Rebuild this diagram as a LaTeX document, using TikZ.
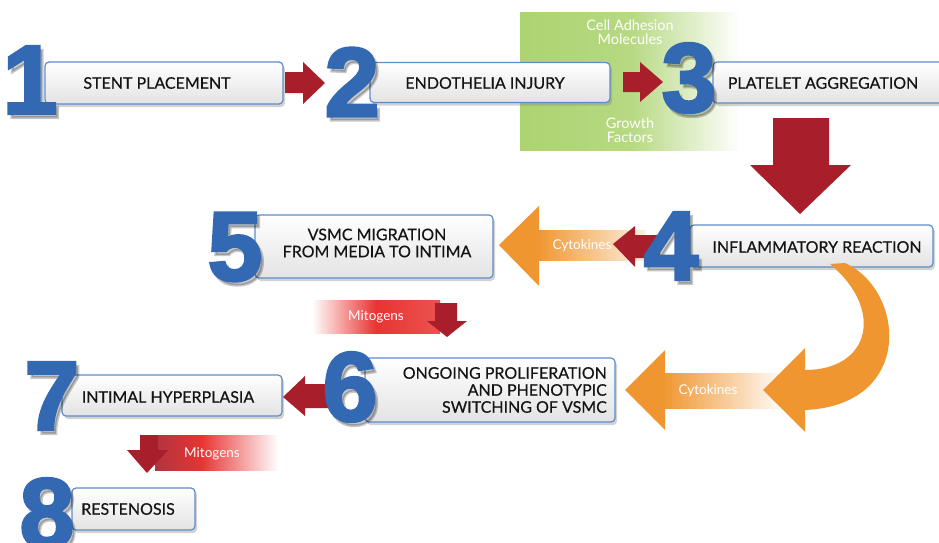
\documentclass[tikz,border=0pt]{standalone}
\usepackage{fontspec}
\setmainfont{Lato}[FakeBold=0.4]
\newfontfamily\smallfont{Lato}
\newfontfamily\numfont{Liberation Sans}[BoldFeatures={FakeBold=3}]
\usetikzlibrary{shadows}
\definecolor{nblue}{RGB}{50,105,178}
\definecolor{bblue}{RGB}{95,140,200}
\definecolor{ared}{RGB}{168,30,42}
\definecolor{bred}{RGB}{232,52,50}
\definecolor{aorange}{RGB}{240,150,48}
\definecolor{agreen}{RGB}{158,204,88}
\definecolor{txt}{RGB}{20,20,20}
\begin{document}
\begin{tikzpicture}[x=1pt,y=-1pt,
  box/.style={draw=bblue, line width=1.2pt, rounded corners=4pt, top color=white, bottom color=gray!22, inner sep=0pt,
    drop shadow={shadow xshift=2pt, shadow yshift=-3pt, opacity=0.35, fill=gray}},
  lbl/.style={font=\fontsize{16}{19}\selectfont, text=txt, inner sep=0pt, align=center},
  small/.style={font=\smallfont\fontsize{13.5}{15}\selectfont, text=white, inner sep=0pt, align=center},
  num/.style={font=\numfont\bfseries\fontsize{98}{98}\selectfont, text=nblue, inner sep=0pt},
  numsh/.style={font=\numfont\bfseries\fontsize{98}{98}\selectfont, text=black, opacity=0.22, inner sep=0pt},
  redarr/.style={fill=ared},
  orarr/.style={fill=aorange}
]
\useasboundingbox (0,0) rectangle (939,543);
\fill[white] (0,0) rectangle (939,543);

% green background
\shade[left color=agreen!85, right color=white, middle color=agreen!75] (520,13) rectangle (740,150);
\node[small, font=\smallfont\fontsize{14.5}{14}\selectfont] (cam) at (630,32) {Cell Adhesion\\Molecules};
\node[small, font=\smallfont\fontsize{14.5}{14}\selectfont] (gf) at (630,130) {Growth\\Factors};

% boxes
\node[box, minimum width=238pt, minimum height=42pt] (b1) at (164,83) {};
\node[box, minimum width=240pt, minimum height=40pt] (b2) at (490,82.5) {};
\node[box, minimum width=232pt, minimum height=41pt] (b3) at (829,82.5) {};
\node[box, minimum width=243pt, minimum height=42pt] (b4) at (811.5,246) {};
\node[box, minimum width=238pt, minimum height=63pt] (b5) at (374,246.5) {};
\node[box, minimum width=250pt, minimum height=64pt] (b6) at (490,390) {};
\node[box, minimum width=220pt, minimum height=41pt] (b7) at (172,395.5) {};
\node[box, minimum width=123pt, minimum height=42pt] (b8) at (133.5,509) {};

\node[lbl] (t1) at (157,83) {STENT PLACEMENT};
\node[lbl] (t2) at (485,83) {ENDOTHELIA INJURY};
\node[lbl] (t3) at (823,83) {PLATELET AGGREGATION};
\node[lbl] (t4) at (817,247) {INFLAMMATORY REACTION};
\node[lbl] (t5) at (377,243) {VSMC MIGRATION\\[-2pt]FROM MEDIA TO INTIMA};
\node[lbl, align=right, anchor=east] (t6) at (607,390) {ONGOING PROLIFERATION\\[-2pt]AND PHENOTYPIC\\[-2pt]SWITCHING OF VSMC};
\node[lbl] (t7) at (168,397) {INTIMAL HYPERPLASIA};
\node[lbl] (t8) at (128,509) {RESTENOSIS};

% red arrows top row
\path[redarr] (285,72) -- (303,72) -- (303,62) -- (325,83) -- (303,104) -- (303,93) -- (285,93) -- cycle;
\path[redarr] (623,72) -- (640,72) -- (640,62) -- (663,82) -- (640,102) -- (640,92) -- (623,92) -- cycle;
% big down arrow
\path[redarr] (773,118) -- (829,118) -- (829,165) -- (851,165) -- (800,214) -- (750,165) -- (773,165) -- cycle;

% upper cytokines arrow
\shade[left color=aorange, right color=aorange!15] (537,230) rectangle (645,260);
\path[orarr] (539,206) -- (499,245) -- (539,286) -- cycle;
\node[small] (cy1) at (582,246) {Cytokines};
\path[redarr] (660,235) -- (635,235) -- (635,226) -- (613,244) -- (635,267) -- (635,258) -- (660,258) -- cycle;

% lower cytokines arrow
\shade[left color=aorange, right color=aorange!5] (663,373) rectangle (780,408);
\path[orarr] (665,350) -- (625,390) -- (665,430) -- cycle;
\node[small] (cy2) at (708,391) {Cytokines};

% curved orange arrow
\path[orarr] (845,263) .. controls (905,290) and (915,405) .. (805,410)
  -- (805,432) -- (763,390) -- (805,348) -- (805,370)
  .. controls (870,370) and (885,310) .. (830,264) -- cycle;

% mitogens 1
\shade[left color=white, right color=bred!85, middle color=bred] (312,300) rectangle (440,333);
\node[small] (m1) at (376,317) {Mitogens};
\path[redarr] (435,303) -- (457,303) -- (457,321) -- (467,321) -- (447,337) -- (427,321) -- (435,321) -- cycle;

% red arrow 6 -> 7
\path[redarr] (330,384) -- (305,384) -- (305,376) -- (283,397) -- (305,416) -- (305,408) -- (330,408) -- cycle;

% mitogens 2
\shade[left color=ared!90, right color=bred] (155,435) rectangle (202,470);
\shade[left color=bred, right color=white] (201.5,435) rectangle (278,470);
\node[small] (m2) at (212,454) {Mitogens};
\path[redarr] (140,435) -- (158,435) -- (158,450) -- (168,450) -- (147,473) -- (127,450) -- (140,450) -- cycle;

% numbers
\foreach \x/\y/\d in {30/80/1, 352/82/2, 689/78/3, 671/246/4, 235/247/5, 350/387/6, 52/396/7, 47/513/8}{
  \node[numsh] at (\x+3,\y+4) {\d};
}
\node[num] (n1) at (30,80) {1};
\node[num] (n2) at (352,82) {2};
\node[num] (n3) at (689,78) {3};
\node[num] (n4) at (671,246) {4};
\node[num] (n5) at (235,247) {5};
\node[num] (n6) at (350,387) {6};
\node[num] (n7) at (52,396) {7};
\node[num] (n8) at (47,513) {8};
\end{tikzpicture}
\end{document}
